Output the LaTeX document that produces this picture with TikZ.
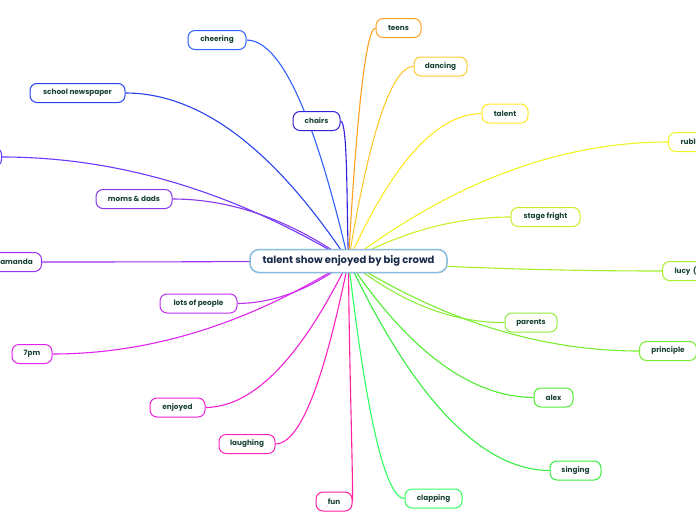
\documentclass[tikz,border=0pt]{standalone}
\usepackage{fontspec}
\setmainfont{Poppins}
\usetikzlibrary{backgrounds}
\definecolor{txtgreen}{HTML}{1A4434}
\definecolor{txtnavy}{HTML}{1A2A4A}
\definecolor{hubblue}{HTML}{88BBDD}
\definecolor{cCheer}{HTML}{3060FF}
\definecolor{cNews}{HTML}{2844F0}
\definecolor{cCut}{HTML}{6A38FF}
\definecolor{cMoms}{HTML}{8838E8}
\definecolor{cAmanda}{HTML}{A030F0}
\definecolor{cLots}{HTML}{C030F0}
\definecolor{cSeven}{HTML}{E022F0}
\definecolor{cEnjoy}{HTML}{F022D8}
\definecolor{cLaugh}{HTML}{FF22C0}
\definecolor{cFun}{HTML}{FF20A0}
\definecolor{cChairs}{HTML}{3020D8}
\definecolor{cTeens}{HTML}{FFA020}
\definecolor{cDance}{HTML}{FFC830}
\definecolor{cTalent}{HTML}{FFE822}
\definecolor{cRubl}{HTML}{EEF522}
\definecolor{cStage}{HTML}{C8F028}
\definecolor{cLucy}{HTML}{A8EE2A}
\definecolor{cParents}{HTML}{90EE3A}
\definecolor{cPrinc}{HTML}{78EE30}
\definecolor{cAlex}{HTML}{50EE30}
\definecolor{cSing}{HTML}{38EE40}
\definecolor{cClap}{HTML}{30FF60}
\tikzset{
  topic/.style={draw=#1, line width=1pt, fill=white, rounded corners=7pt,
    minimum height=19pt, inner xsep=0pt, inner ysep=2pt,
    text=txtgreen, font=\fontsize{7.3}{8}\selectfont\bfseries},
  central/.style={draw=hubblue, line width=1.5pt, fill=white, rounded corners=9pt,
    minimum height=23pt, minimum width=197pt, inner sep=0pt,
    text=txtnavy, font=\fontsize{10}{11}\selectfont\bfseries},
  branch/.style={draw=#1, line width=1.1pt}
}
\begin{document}
\begin{tikzpicture}[x=1pt,y=-1pt]
\useasboundingbox (0,0) rectangle (696,520);
\node[central] (c) at (348.5,261) {talent show enjoyed by big crowd};
% left side
\node[topic=cCheer, minimum width=58pt] (cheering) at (217,40) {cheering};
\node[topic=cNews, minimum width=95pt] (news) at (77.5,93) {school newspaper};
\node[topic=cCut, minimum width=60pt, anchor=east] (cut) at (2,157) {};
\node[topic=cMoms, minimum width=76pt] (moms) at (134,199) {moms \& dads};
\node[topic=cAmanda, minimum width=50pt, anchor=east] (amanda) at (42,262) {amanda};
\node[topic=cLots, minimum width=77pt] (lots) at (198.5,303.5) {lots of people};
\node[topic=cSeven, minimum width=40pt] (seven) at (32,354) {7pm};
\node[topic=cEnjoy, minimum width=55pt] (enjoyed) at (177.5,407.5) {enjoyed};
\node[topic=cLaugh, minimum width=56pt] (laughing) at (247,444) {laughing};
\node[topic=cFun, minimum width=36pt] (fun) at (334,501.5) {fun};
\node[topic=cChairs, minimum width=47pt] (chairs) at (316.5,121) {chairs};
% right side
\node[topic=cTeens, minimum width=45pt] (teens) at (398.5,28) {teens};
\node[topic=cDance, minimum width=53pt] (dancing) at (440.5,66.5) {dancing};
\node[topic=cTalent, minimum width=46pt] (talent) at (505,113.5) {talent};
\node[topic=cRubl, minimum width=60pt, anchor=west, text width=36pt, align=left] (rubl) at (668,142) {rubl};
\node[topic=cStage, minimum width=69pt] (stage) at (545.5,217) {stage fright};
\node[topic=cLucy, minimum width=60pt, anchor=west, text width=36pt, align=left] (lucy) at (662,271) {lucy (};
\node[topic=cParents, minimum width=52pt] (parents) at (531,322.5) {parents};
\node[topic=cPrinc, minimum width=57pt, anchor=west] (principle) at (639,351) {principle};
\node[topic=cAlex, minimum width=39pt] (alex) at (553.5,397.5) {alex};
\node[topic=cSing, minimum width=51pt] (singing) at (575.5,470.5) {singing};
\node[topic=cClap, minimum width=57pt] (clapping) at (433.5,498.5) {clapping};
\begin{scope}[on background layer]
\draw[branch=cCheer] (c.center) .. controls (327.6,172.6) and (291.9,40) .. (cheering.east);
\draw[branch=cNews] (c.center) .. controls (303.4,193.8) and (225.4,93) .. (news.east);
\draw[branch=cCut] (c.center) .. controls (278.8,219.4) and (157.7,157) .. (cut.east);
\draw[branch=cMoms] (c.center) .. controls (312.8,236.2) and (251.2,199) .. (moms.east);
\draw[branch=cAmanda] (c.center) .. controls (286.8,261.4) and (179.7,262) .. (amanda.east);
\draw[branch=cLots] (c.center) .. controls (325.8,277.8) and (287,303) .. (lots.east);
\draw[branch=cSeven] (c.center) .. controls (288.8,298.2) and (185.2,354) .. (seven.east);
\draw[branch=cEnjoy] (c.center) .. controls (319.4,319.4) and (269.4,407) .. (enjoyed.east);
\draw[branch=cLaugh] (c.center) .. controls (333.4,334.2) and (307.9,444) .. (laughing.east);
\draw[branch=cFun] (c.center) .. controls (349,360) and (353,470) .. (fun.east);
\draw[branch=cChairs] (c.center) .. controls (346.4,205) and (348,121) .. (chairs.east);
\draw[branch=cTeens] (c.center) .. controls (353.6,167.8) and (363.4,28) .. (teens.west);
\draw[branch=cDance] (c.center) .. controls (361.2,183.4) and (384.3,67) .. (dancing.west);
\draw[branch=cTalent] (c.center) .. controls (374.8,202.2) and (421.7,114) .. (talent.west);
\draw[branch=cRubl] (c.center) .. controls (412,213.4) and (524,142) .. (rubl.west);
\draw[branch=cStage] (c.center) .. controls (380.6,243.4) and (437.6,217) .. (stage.west);
\draw[branch=cLucy] (c.center) .. controls (410.8,265) and (520.7,271) .. (lucy.west);
\draw[branch=cParents] (c.center) .. controls (379.4,285.8) and (434.4,323) .. (parents.west);
\draw[branch=cPrinc] (c.center) .. controls (406.2,297) and (508,351) .. (principle.west);
\draw[branch=cAlex] (c.center) .. controls (385.2,315.4) and (450.3,397) .. (alex.west);
\draw[branch=cSing] (c.center) .. controls (388.4,344.6) and (459.1,470) .. (singing.west);
\draw[branch=cClap] (c.center) .. controls (359.4,355.8) and (379.4,498) .. (clapping.west);
\end{scope}
\end{tikzpicture}
\end{document}
